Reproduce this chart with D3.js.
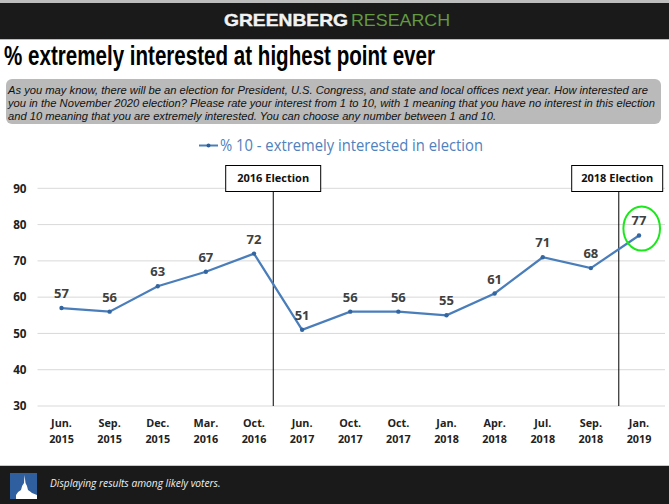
<!DOCTYPE html>
<html>
<head>
<meta charset="utf-8">
<script src="https://cdn.jsdelivr.net/npm/d3@7"></script>
<style>
  html, body { margin: 0; padding: 0; background: #fff; }
  svg { display: block; }
  text { font-family: "Open Sans", sans-serif; }
</style>
</head>
<body>
<script>
const WIDTH = 669
const HEIGHT = 504

const months = ['Jun.', 'Sep.', 'Dec.', 'Mar.', 'Oct.', 'Jun.', 'Oct.', 'Oct.', 'Jan.', 'Apr.', 'Jul.', 'Sep.', 'Jan.']
const years = ['2015', '2015', '2015', '2016', '2016', '2017', '2017', '2017', '2018', '2018', '2018', '2018', '2019']
const values = [57, 56, 63, 67, 72, 51, 56, 56, 55, 61, 71, 68, 77]
const yTicks = [30, 40, 50, 60, 70, 80, 90]
const seriesName = '% 10 - extremely interested in election'
const questionLines = [
  'As you may know, there will be an election for President, U.S. Congress, and state and local offices next year. How interested are',
  'you in the November 2020 election? Please rate your interest from 1 to 10, with 1 meaning that you have no interest in this election',
  'and 10 meaning that you are extremely interested. You can choose any number between 1 and 10.'
]
// category index the marker sits after, and how far towards the next category
const electionNames = ['2016 Election', '2018 Election']
const electionAfter = [4, 11]
const electionOffset = [0.4, 0.58]

const ids = values.map((d, i) => i)
const svg = d3.select('body').append('svg')
  .attr('width', WIDTH)
  .attr('height', HEIGHT)

const x = d3.scalePoint().domain(ids).range([61.5, 639])
const y = d3.scaleLinear().domain([30, 90]).range([406, 188.3])

// header
svg.append('rect').attr('width', WIDTH).attr('height', 40).attr('fill', '#bdbdbd')
svg.append('rect').attr('y', 3).attr('width', WIDTH).attr('height', 36).attr('fill', '#1a1a1a')
svg.append('text')
  .attr('x', 224).attr('y', 25.5)
  .attr('font-size', 17)
  .attr('font-weight', 700)
  .attr('fill', '#f2f2f2')
  .attr('stroke', '#f2f2f2').attr('stroke-width', 0.4)
  .attr('textLength', 124)
  .attr('lengthAdjust', 'spacingAndGlyphs')
  .style('font-family', '"Liberation Sans", sans-serif')
  .text('GREENBERG')
svg.append('text')
  .attr('x', 351).attr('y', 25.5)
  .attr('font-size', 17)
  .attr('fill', '#639a42')
  .attr('textLength', 99)
  .attr('lengthAdjust', 'spacingAndGlyphs')
  .style('font-family', '"Liberation Sans", sans-serif')
  .text('RESEARCH')

// title
svg.append('text')
  .attr('x', 4).attr('y', 65)
  .attr('font-size', 28)
  .attr('font-weight', 700)
  .attr('textLength', 431)
  .attr('lengthAdjust', 'spacingAndGlyphs')
  .style('font-family', '"Liberation Sans Narrow", "Liberation Sans", sans-serif')
  .attr('fill', '#000')
  .text('% extremely interested at highest point ever')

// question box
const questionWidths = [640, 647, 488]
svg.append('rect')
  .attr('x', 6).attr('y', 79)
  .attr('width', 655).attr('height', 45)
  .attr('rx', 6)
  .attr('fill', '#bababa')
svg.append('g').selectAll('text')
  .data(questionLines)
  .enter()
  .append('text')
  .attr('x', 8)
  .attr('y', (d, i) => 93.5 + i * 13.4)
  .attr('font-size', 11)
  .attr('font-style', 'italic')
  .attr('fill', '#111')
  .attr('textLength', (d, i) => questionWidths[i])
  .attr('lengthAdjust', 'spacingAndGlyphs')
  .style('font-family', '"Liberation Sans", sans-serif')
  .text(d => d)

// legend
const legendY = 145.5
svg.append('line')
  .attr('x1', 199).attr('x2', 218)
  .attr('y1', legendY).attr('y2', legendY)
  .attr('stroke', '#4a7ebb').attr('stroke-width', 2)
svg.append('circle')
  .attr('cx', 208.5).attr('cy', legendY).attr('r', 2)
  .attr('fill', '#2f5f98')
svg.append('text')
  .attr('x', 220).attr('y', legendY + 5.5)
  .attr('font-size', 15.5)
  .attr('textLength', 263)
  .attr('lengthAdjust', 'spacingAndGlyphs')
  .attr('fill', '#4f81bd')
  .text(seriesName)

// gridlines
svg.append('g')
  .attr('stroke', '#d9d9d9')
  .attr('stroke-width', 1)
  .selectAll('line')
  .data(yTicks)
  .enter()
  .append('line')
  .attr('x1', 37.5).attr('x2', 665)
  .attr('y1', d => y(d)).attr('y2', d => y(d))

// y axis
const yAxis = svg.append('g')
  .attr('transform', 'translate(26.5,0)')
  .call(d3.axisLeft(y).tickValues(yTicks).tickSize(0).tickPadding(0))
yAxis.select('.domain').remove()
yAxis.selectAll('text')
  .attr('font-size', 11.7)
  .attr('font-weight', 700)
  .attr('fill', '#222')
  .style('font-family', '"Open Sans", sans-serif')

// x axis, two rows
const xLabels = svg.append('g').selectAll('text')
  .data(ids)
  .enter()
  .append('text')
  .attr('x', d => x(d))
  .attr('y', 427)
  .attr('text-anchor', 'middle')
  .attr('font-size', 10.8)
  .attr('font-weight', 700)
  .attr('fill', '#222')
xLabels.append('tspan').attr('x', d => x(d)).text(d => months[d])
xLabels.append('tspan').attr('x', d => x(d)).attr('dy', 15.5).text(d => years[d])

// election markers
const step = x.step()
const electionX = electionAfter.map((d, i) => x(d) + electionOffset[i] * step)
svg.append('g')
  .attr('stroke', '#000')
  .attr('stroke-width', 1)
  .selectAll('line')
  .data(electionX)
  .enter()
  .append('line')
  .attr('x1', d => d).attr('x2', d => d)
  .attr('y1', 191).attr('y2', 406)

// line and points
const line = d3.line().x(d => x(d)).y(d => y(values[d]))
svg.append('path')
  .datum(ids)
  .attr('d', line)
  .attr('fill', 'none')
  .attr('stroke', '#4a7ebb')
  .attr('stroke-width', 2.25)
svg.append('g').selectAll('circle')
  .data(ids)
  .enter()
  .append('circle')
  .attr('cx', d => x(d))
  .attr('cy', d => y(values[d]))
  .attr('r', 2.2)
  .attr('fill', '#33659f')

// value labels
svg.append('g').selectAll('text')
  .data(ids)
  .enter()
  .append('text')
  .attr('x', d => x(d))
  .attr('y', d => y(values[d]) - 10)
  .attr('text-anchor', 'middle')
  .attr('font-size', 13)
  .attr('font-weight', 700)
  .attr('fill', '#404040')
  .text(d => values[d])

// election label boxes
const boxW = [95, 91]
const boxCx = [273.2, 617.2]
const boxes = svg.append('g').selectAll('g')
  .data(electionNames)
  .enter()
  .append('g')
boxes.append('rect')
  .attr('x', (d, i) => boxCx[i] - boxW[i] / 2)
  .attr('y', 165.5)
  .attr('width', (d, i) => boxW[i])
  .attr('height', 26)
  .attr('fill', '#fff')
  .attr('stroke', '#000')
boxes.append('text')
  .attr('x', (d, i) => boxCx[i])
  .attr('y', 181.5)
  .attr('text-anchor', 'middle')
  .attr('font-size', 11)
  .attr('font-weight', 700)
  .attr('fill', '#111')
  .text(d => d)

// green highlight round the last point
svg.append('ellipse')
  .attr('cx', x(12) + 2.7).attr('cy', y(77) - 7)
  .attr('rx', 18.3).attr('ry', 22)
  .attr('fill', 'none')
  .attr('stroke', '#1be81b')
  .attr('stroke-width', 2)

// footer
svg.append('rect').attr('y', 465).attr('width', WIDTH).attr('height', 1).attr('fill', '#c8c8c8')
svg.append('rect').attr('y', 466).attr('width', WIDTH).attr('height', 38).attr('fill', '#1a1a1a')
const logo = svg.append('g').attr('transform', 'translate(10,473)')
logo.append('rect').attr('width', 27).attr('height', 26).attr('fill', '#2f5f9e')
logo.append('path')
  .attr('d', 'M6 26 V22 Q7 19 11 17 Q12 12 14 10 L14.5 2 L15.5 10 Q17 12 18 17 Q21 19 22 20 L27 22 V26 Z')
  .attr('fill', '#fff')
svg.append('text')
  .attr('x', 50).attr('y', 487)
  .attr('font-size', 10.2)
  .attr('font-style', 'italic')
  .attr('fill', '#f0f0f0')
  .text('Displaying results among likely voters.')
</script>
</body>
</html>
